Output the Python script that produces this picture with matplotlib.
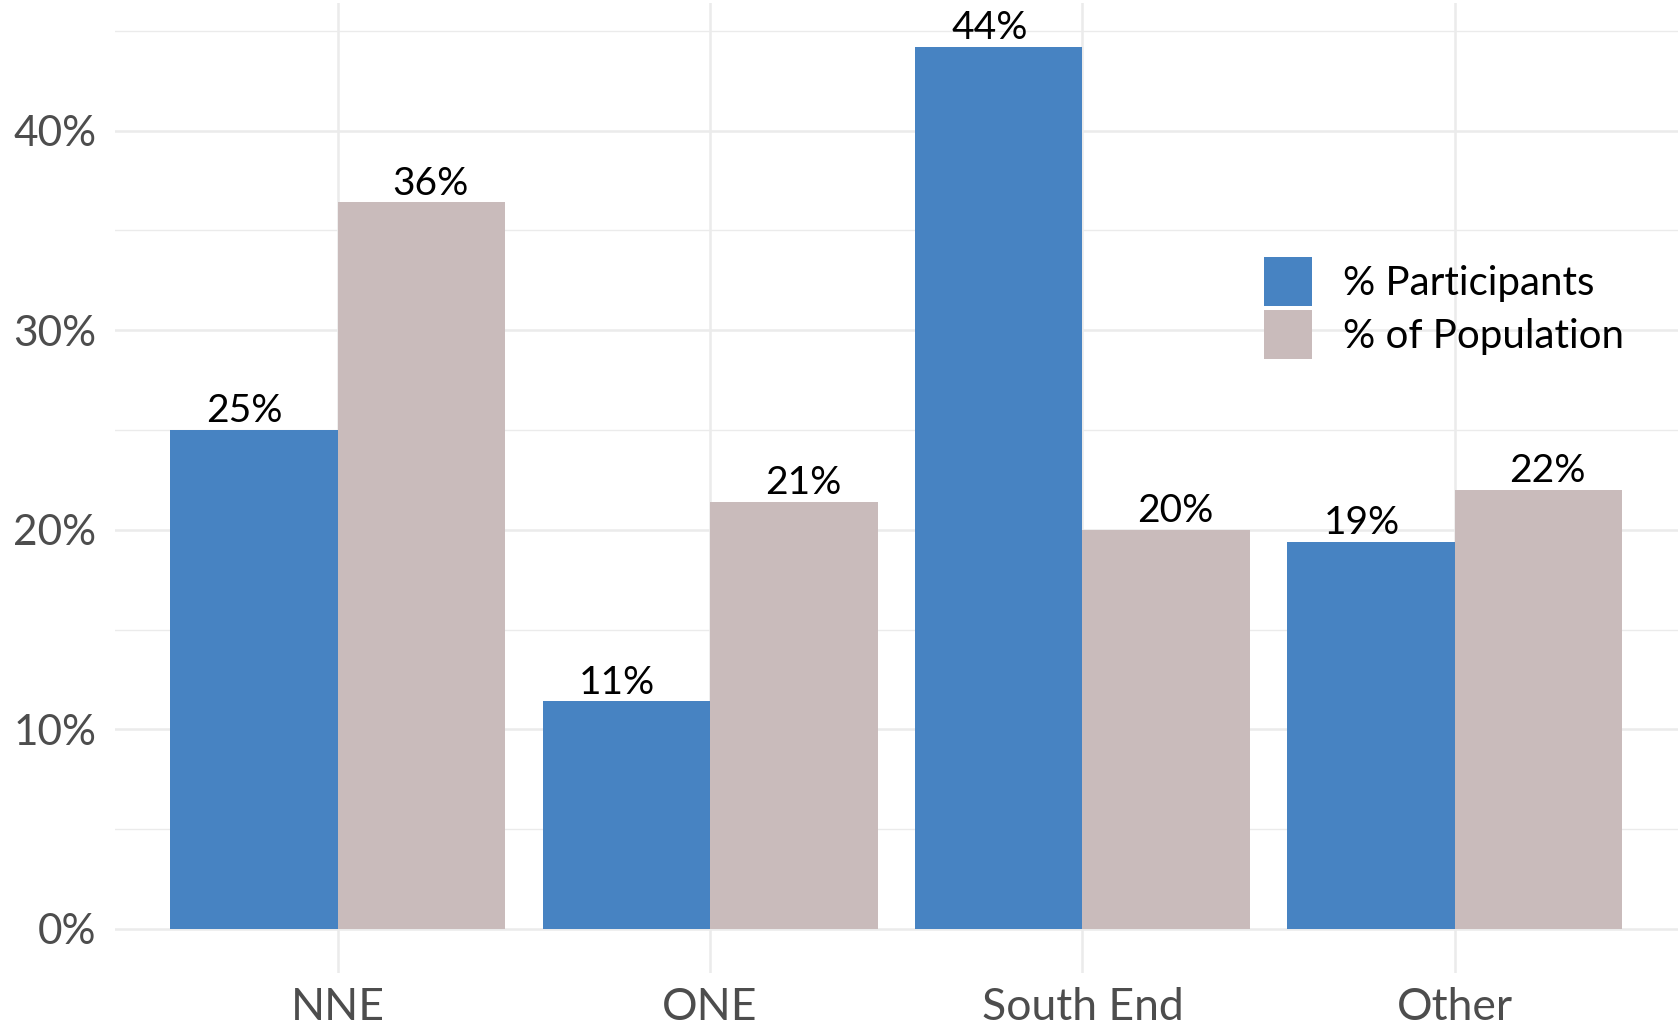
import matplotlib
matplotlib.use("Agg")
import matplotlib.pyplot as plt
from matplotlib.patches import Patch
import numpy as np

categories = ["NNE", "ONE", "South End", "Other"]
participants = [25.0, 11.4, 44.2, 19.4]
population = [36.4, 21.4, 20.0, 22.0]
participants_labels = ["25%", "11%", "44%", "19%"]
population_labels = ["36%", "21%", "20%", "22%"]
series_names = ["% Participants", "% of Population"]
y_ticks = [0, 10, 20, 30, 40]
y_tick_labels = ["0%", "10%", "20%", "30%", "40%"]

blue = "#4783C2"
pink = "#C9BBBB"
grid_col = "#EBEBEB"

plt.rcParams["font.family"] = ["Lato", "DejaVu Sans"]

W, H = 1678, 1031
fig = plt.figure(figsize=(W / 100, H / 100), dpi=100)
ax = fig.add_axes([114.5 / W, 1 - 973 / H, 1 - 114.5 / W, (973 - 2.6) / H])

x = np.arange(len(categories))
bw = 0.45
text_dodge = 0.25
b1 = ax.bar(x - bw / 2, participants, width=bw, color=blue, zorder=3, linewidth=0)
b2 = ax.bar(x + bw / 2, population, width=bw, color=pink, zorder=3, linewidth=0)

for sign, vals, labs in ((-1, participants, participants_labels), (1, population, population_labels)):
    for xi, v, lab in zip(x, vals, labs):
        ax.annotate(lab, (xi + sign * text_dodge, v),
                    xytext=(0, 5.5), textcoords="offset points",
                    ha="center", va="baseline", fontsize=28, color="black", zorder=4)

ymax = max(max(participants), max(population))
ax.set_ylim(-0.05 * ymax, ymax * 1.05)
ax.set_xlim(-0.6, len(categories) - 1 + 0.6)

ax.set_xticks(x)
ax.set_xticklabels(categories)
ax.set_yticks(y_ticks)
ax.set_yticklabels(y_tick_labels)
ax.set_yticks([5, 15, 25, 35, 45], minor=True)

ax.tick_params(axis="both", which="both", length=0, colors="#4D4D4D")
ax.tick_params(axis="x", pad=10, labelsize=32)
ax.tick_params(axis="y", pad=13, labelsize=30.5)

ax.grid(True, which="major", axis="both", color=grid_col, linewidth=1.8, zorder=0)
ax.grid(True, which="minor", axis="y", color=grid_col, linewidth=1.0, zorder=0)
ax.set_axisbelow(True)
for s in ax.spines.values():
    s.set_visible(False)

handles = [Patch(facecolor=blue, edgecolor="none", linewidth=0),
           Patch(facecolor=pink, edgecolor="none", linewidth=0)]
leg = fig.legend(handles, series_names, loc="upper left",
                 bbox_to_anchor=(1264 / W, 1 - 257.5 / H),
                 frameon=False, fontsize=29, handlelength=1.2, handleheight=1.46,
                 handletextpad=0.75, labelspacing=0.12, borderpad=0, borderaxespad=0)

fig.savefig("out.png", dpi=100)
